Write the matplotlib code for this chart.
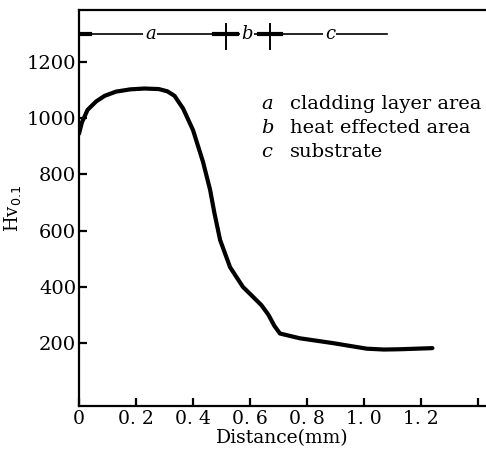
import matplotlib
matplotlib.use("Agg")
import matplotlib.pyplot as plt

# hardness profile
distance = [0.0, 0.01, 0.03, 0.06, 0.09, 0.13, 0.18, 0.23, 0.28, 0.31, 0.335,
            0.365, 0.40, 0.435, 0.46, 0.475, 0.495, 0.53, 0.575, 0.61, 0.64,
            0.665, 0.685, 0.705, 0.775, 0.89, 1.01, 1.07, 1.125, 1.24]
hardness = [945, 985, 1030, 1060, 1080, 1095, 1103, 1106, 1104, 1096, 1080,
            1035, 958, 845, 745, 663, 567, 470, 400, 365, 335,
            300, 262, 234, 217, 200, 180, 177, 178, 182]

xticks = [0, 0.2, 0.4, 0.6, 0.8, 1.0, 1.2, 1.4]
xticklabels = ["0", "0. 2", "0. 4", "0. 6", "0. 8", "1. 0", "1. 2", ""]
yticks = [200, 400, 600, 800, 1000, 1200]

# zone bar along the top
zone_y = 1300
zone_edges = [0.0, 0.515, 0.67, 1.08]
zone_names = ["a", "b", "c"]
zone_label_x = [0.25, 0.59, 0.88]
legend_lines = [("a", "cladding layer area"), ("b", "heat effected area"), ("c", "substrate")]

plt.rcParams['font.family'] = ['DejaVu Serif']

fig = plt.figure(figsize=(4.86, 4.54), dpi=100)
ax = fig.add_axes([0.1626, 0.1057, 0.8374, 0.872])

ax.plot(distance, hardness, color="black", lw=3.0,
        solid_capstyle="round", solid_joinstyle="round")

ax.set_xlim(0, 1.428)
ax.set_ylim(-24, 1385)

ax.spines['right'].set_visible(False)
for s in ['left', 'bottom', 'top']:
    ax.spines[s].set_linewidth(1.6)

ax.set_xticks(xticks)
ax.set_xticklabels(xticklabels)
ax.set_yticks(yticks)
ax.tick_params(direction="in", length=6, width=1.6, labelsize=14, pad=2)
ax.tick_params(axis="x", pad=3, labelsize=13.5)
ax.tick_params(top=False)

ax.set_xlabel("Distance(mm)", fontsize=13.5, labelpad=1)
ax.set_ylabel(r"Hv$_{0.1}$", fontsize=13, labelpad=3)

# zone bar
ax.plot([zone_edges[0], zone_edges[-1]], [zone_y, zone_y], color="black", lw=1.2)
for e in zone_edges[1:-1]:
    ax.plot([e, e], [zone_y - 55, zone_y + 35], color="black", lw=1.4)
for e in zone_edges[:-1]:
    ax.plot([e + 0.005, e + 0.04], [zone_y, zone_y], color="black", lw=3)
for e in zone_edges[1:-1]:
    ax.plot([e - 0.04, e - 0.005], [zone_y, zone_y], color="black", lw=3)
for n, lx in zip(zone_names, zone_label_x):
    ax.text(lx, zone_y, n, ha="center", va="center", fontsize=13, style="italic",
            bbox=dict(facecolor="white", edgecolor="none", pad=1))

for i, (k, txt) in enumerate(legend_lines):
    yy = 1050 - i * 85
    ax.text(0.64, yy, k, fontsize=14, style="italic", va="center")
    ax.text(0.74, yy, txt, fontsize=14, va="center")

fig.savefig("out.png", dpi=100)
